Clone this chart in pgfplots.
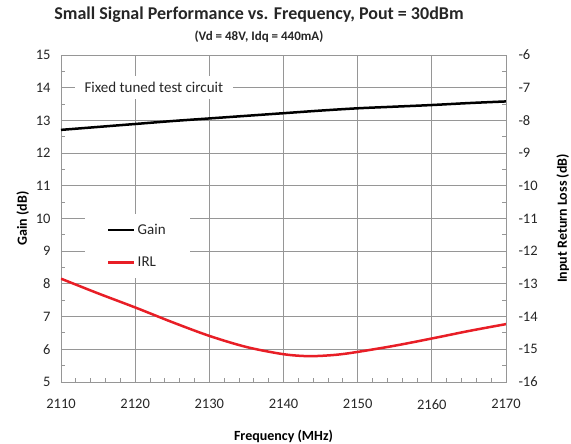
\documentclass[border=0pt]{standalone}
\usepackage{fontspec}
\setmainfont{Carlito}
\usepackage{pgfplots}
\pgfplotsset{compat=1.18}
\definecolor{gridc}{RGB}{150,150,150}
\definecolor{irl}{RGB}{232,30,38}
\begin{document}
\begin{tikzpicture}[x=1pt,y=1pt]
\path[use as bounding box] (-61,-62) rectangle (510,382);
\begin{axis}[
  scale only axis, width=445pt, height=327pt,
  xmin=2110, xmax=2170, ymin=5, ymax=15,
  xtick={2110,2120,...,2170}, ytick={5,6,...,15},
  minor x tick num=4, minor y tick num=1,
  xtick pos=bottom, ytick pos=left,
  grid=major, major grid style={gridc, line width=0.9pt},
  axis line style={gridc, line width=0.9pt},
  tick style={gridc, line width=0.9pt},
  major tick length=0pt, minor tick length=4pt, tick align=inside,
  /pgf/number format/assume math mode=true,
  /pgf/number format/1000 sep={},
  ticklabel style={font=\fontsize{14.5}{16}\selectfont, text=black!85},
  yticklabel style={xshift=-7pt},
  xticklabel style={yshift=-14pt},
  xlabel={\textbf{Frequency (MHz)}},
  ylabel={\textbf{Gain (dB)}},
  label style={font=\fontsize{14}{16}\selectfont},
  xlabel style={yshift=-14pt},
  ylabel style={yshift=0pt},
]
\addplot[black, line width=2.5pt, smooth] coordinates {
(2110,12.71) (2115,12.80) (2120,12.89) (2125,12.98) (2130,13.06) (2135,13.14)
(2140,13.22) (2145,13.30) (2150,13.37) (2155,13.42) (2160,13.47) (2165,13.53) (2170,13.58)};
\node[fill=white, anchor=west, inner xsep=10pt, inner ysep=6pt, font=\fontsize{15}{17}\selectfont, text=black!85]
  at (axis cs:2111.8,14) {Fixed tuned test circuit};
\end{axis}
\begin{axis}[
  scale only axis, width=445pt, height=327pt,
  xmin=2110, xmax=2170, ymin=-16, ymax=-6,
  axis x line=none, axis y line*=right,
  ytick={-16,-15,...,-6}, minor y tick num=1,
  axis line style={gridc, line width=0.9pt},
  tick style={gridc, line width=0.9pt},
  major tick length=0pt, minor tick length=4pt, tick align=inside,
  /pgf/number format/assume math mode=true,
  ticklabel style={font=\fontsize{14.5}{16}\selectfont, text=black!85},
  yticklabel style={xshift=9pt},
  ylabel={\textbf{Input Return Loss (dB)}},
  label style={font=\fontsize{14}{16}\selectfont},
  ylabel style={yshift=-12pt},
  legend style={at={(rel axis cs:0.054,0.318)}, anchor=south west, draw=none, fill=white,
    font=\fontsize{15}{17}\selectfont, text=black!85, row sep=17pt,
    inner xsep=22pt, inner ysep=8pt},
  legend cell align=left,
  legend image code/.code={\draw[#1] (0pt,0pt) -- (26pt,0pt);},
]
\addlegendimage{black, line width=2.5pt}
\addlegendentry{Gain}
\addplot[irl, line width=2.5pt, smooth] coordinates {
(2110,-12.84) (2115,-13.29) (2120,-13.72) (2125,-14.17) (2130,-14.59) (2135,-14.93)
(2140,-15.15) (2143.5,-15.21) (2147,-15.17) (2150,-15.08) (2155,-14.89) (2160,-14.67)
(2165,-14.44) (2170,-14.23)};
\addlegendentry{IRL}
\end{axis}
\node[font=\bfseries\fontsize{18}{21}\selectfont, text=black!85] at (198,367) {Small Signal Performance vs. Frequency, Pout = 30dBm};
\node[font=\bfseries\fontsize{13}{15}\selectfont, text=black!85] at (198,345) {(Vd = 48V, Idq = 440mA)};
\end{tikzpicture}
\end{document}
